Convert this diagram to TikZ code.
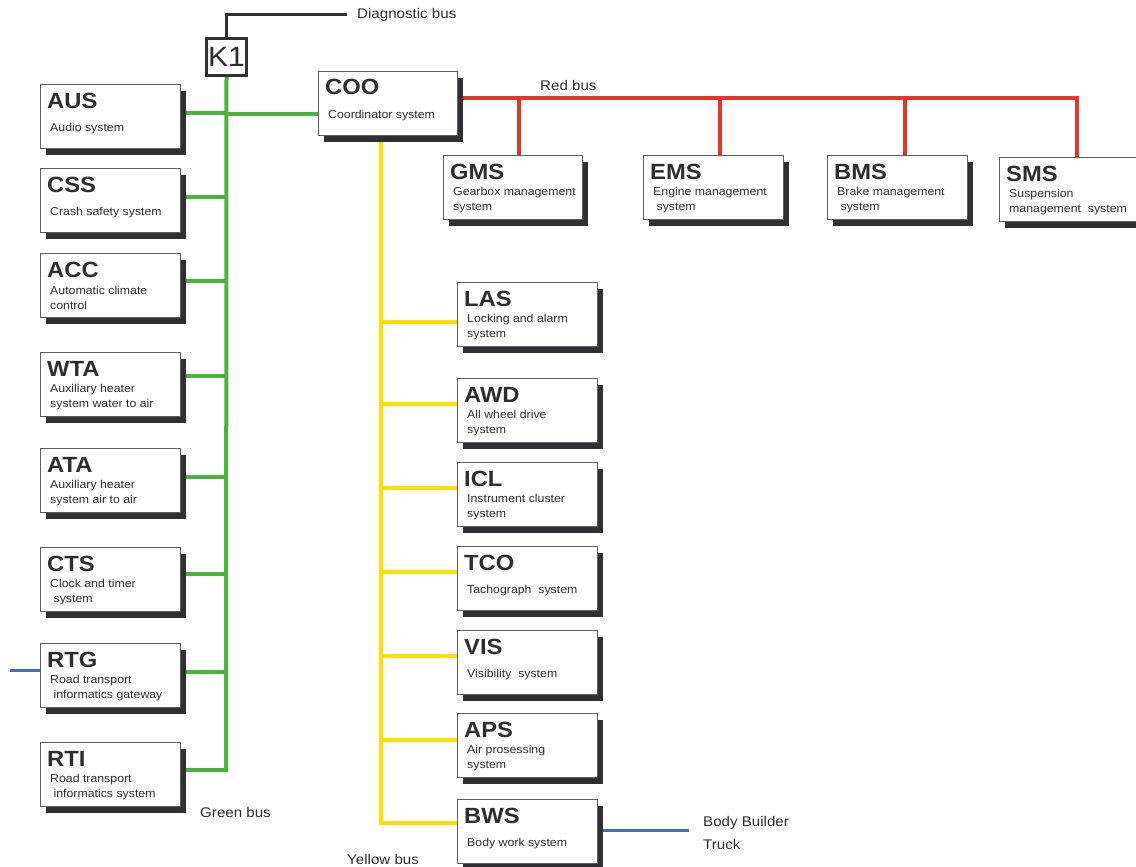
\documentclass[tikz,border=0pt]{standalone}
\usepackage{fontspec}
\setmainfont{Liberation Sans}
\newfontfamily\ecufont{Liberation Sans}[FakeStretch=1.08]
\usetikzlibrary{calc,shadows}

\definecolor{busgreen}{RGB}{76,178,62}
\definecolor{busred}{RGB}{232,50,42}
\definecolor{busyellow}{RGB}{255,222,0}
\definecolor{busblue}{RGB}{62,112,182}
\definecolor{shade}{RGB}{48,48,50}
\definecolor{ink}{RGB}{45,45,45}
\definecolor{frame}{RGB}{95,95,95}

\pgfdeclarelayer{background}
\pgfsetlayers{background,main}

\tikzset{
  ecubox/.style={draw=frame, line width=1.2pt, fill=white,
    minimum height=64pt, inner sep=0pt, anchor=north west,
    general shadow={fill=shade, shadow xshift=5pt, shadow yshift=-6pt}},
  ecutitle/.style={anchor=base west, inner sep=0pt, text=ink,
    font=\ecufont\bfseries\fontsize{22}{22}\selectfont},
  ecusub/.style={anchor=west, inner sep=0pt, align=left, text=ink,
    font=\ecufont\fontsize{11.4}{14.5}\selectfont},
  buslabel/.style={anchor=west, inner sep=0pt, text=ink,
    font=\ecufont\fontsize{14}{17}\selectfont},
  greenbus/.style={draw=busgreen, line width=4pt},
  yellowbus/.style={draw=busyellow, line width=4pt},
  redbus/.style={draw=busred, line width=4pt},
  bluebus/.style={draw=busblue, line width=3pt},
  diagline/.style={draw=shade, line width=3pt},
}

% control unit: id, x, top, width, short name, description
\newcommand\ecu[6]{%
  \node[ecubox, minimum width=#4pt] (#1) at (#2,#3) {};
  \node[ecutitle] (#1-t) at ($(#1.north west)+(7,24)$) {#5};
  \node[ecusub] (#1-s) at ($(#1.north west)+(10,45)$) {#6};
}

\begin{document}
\begin{tikzpicture}[x=1pt,y=-1pt]
\useasboundingbox (0,0) rectangle (1136,867);
\clip (0,0) rectangle (1136,867);

% gateway
\node[draw=shade, line width=3pt, fill=white, minimum width=40pt,
      minimum height=37pt, inner sep=0pt, text=ink,
      font=\ecufont\fontsize{28}{28}\selectfont] (K1) at (226.5,57) {K1};

% green bus units
\ecu{AUS}{40}{84}{140}{AUS}{Audio system}
\ecu{CSS}{40}{168}{140}{CSS}{Crash safety system}
\ecu{ACC}{40}{253}{140}{ACC}{Automatic climate\\control}
\ecu{WTA}{40}{352}{140}{WTA}{Auxiliary heater\\system water to air}
\ecu{ATA}{40}{448}{140}{ATA}{Auxiliary heater\\system air to air}
\ecu{CTS}{40}{547}{140}{CTS}{Clock and timer\\\ system}
\ecu{RTG}{40}{643}{140}{RTG}{Road transport\\\ informatics gateway}
\ecu{RTI}{40}{742}{140}{RTI}{Road transport\\\ informatics system}

% coordinator
\ecu{COO}{318}{71}{139}{COO}{Coordinator system}

% red bus units
\ecu{GMS}{443}{155}{139}{GMS}{Gearbox management\\system}
\ecu{EMS}{643}{155}{140}{EMS}{Engine management\\\ system}
\ecu{BMS}{827}{155}{140}{BMS}{Brake management\\\ system}
\ecu{SMS}{999}{157}{140}{SMS}{Suspension\\management\ \ system}

% yellow bus units
\ecu{LAS}{457}{282}{140}{LAS}{Locking and alarm\\system}
\ecu{AWD}{457}{378}{140}{AWD}{All wheel drive\\system}
\ecu{ICL}{457}{462}{140}{ICL}{Instrument cluster\\system}
\ecu{TCO}{457}{546}{140}{TCO}{Tachograph\ \ system}
\ecu{VIS}{457}{630}{140}{VIS}{Visibility\ \ system}
\ecu{APS}{457}{713}{140}{APS}{Air prosessing\\system}
\ecu{BWS}{457}{799}{140}{BWS}{Body work system}

% bus labels
\node[buslabel] (diaglbl) at (357,15) {Diagnostic bus};
\node[buslabel] (redlbl) at (540,85) {Red bus};
\node[buslabel] (greenlbl) at (200,812) {Green bus};
\node[buslabel] (yellowlbl) at (347,859) {Yellow bus};
\node[buslabel] (bbt1) at (703,823) {Body Builder};
\node[buslabel] (bbt2) at (703,844) {Truck};

\begin{pgfonlayer}{background}
  % diagnostic line
  \coordinate (diagend) at (347,15);
  \draw[diagline] (K1.north) |- (diagend);

  % green bus
  \coordinate (gbus) at (226,0);
  \coordinate (gend) at (226,770);
  \draw[greenbus] (K1.south) -- (gend) -- (gend -| RTI.east);
  \foreach \n/\d in {AUS/29, CSS/29, ACC/28, WTA/24, ATA/29, CTS/27, RTG/29}
    \draw[greenbus] ($(\n.north east)+(0,\d)$) coordinate (tmp) -- (tmp -| gbus);
  \draw[greenbus] ($(COO.north west)+(0,43)$) coordinate (cin) -- (cin -| gbus);

  % red bus
  \coordinate (rstart) at ($(COO.north east)+(0,27)$);
  \coordinate (dG) at ($(GMS.north west)+(76,0)$);
  \coordinate (dE) at ($(EMS.north west)+(77,0)$);
  \coordinate (dB) at ($(BMS.north west)+(78,0)$);
  \coordinate (dS) at ($(SMS.north west)+(78,0)$);
  \draw[redbus] (rstart) -- (rstart -| dS) -- (dS);
  \foreach \d in {dG,dE,dB}
    \draw[redbus] (rstart -| \d) -- (\d);

  % yellow bus
  \coordinate (ybus) at (381,0);
  \coordinate (yend) at ($(BWS.north west)+(0,24)$);
  \draw[yellowbus] (COO.south -| ybus) -- (yend -| ybus) -- (yend);
  \foreach \n/\d in {LAS/40, AWD/26, ICL/26, TCO/26, VIS/26, APS/27}
    \draw[yellowbus] ($(\n.north west)+(0,\d)$) coordinate (tmp) -- (tmp -| ybus);

  % external links
  \coordinate (rtgin) at (10,670);
  \draw[bluebus] (rtgin) -- (rtgin -| RTG.west);
  \coordinate (bwsout) at (689,830);
  \draw[bluebus] (bwsout -| BWS.east) -- (bwsout);
\end{pgfonlayer}
\end{tikzpicture}
\end{document}
